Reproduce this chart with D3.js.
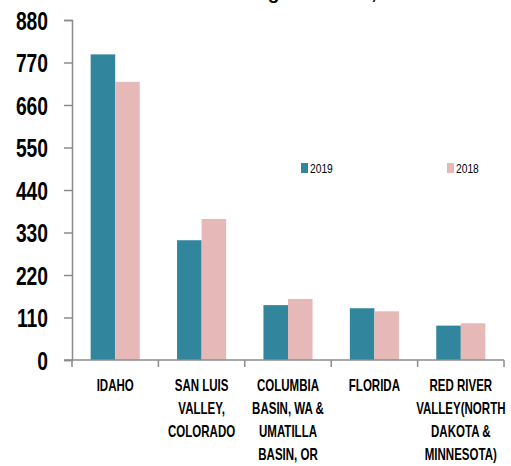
<!DOCTYPE html>
<html>
<head>
<meta charset="utf-8">
<script src="https://cdn.jsdelivr.net/npm/d3@7"></script>
<style>
  body { margin: 0; background: #fff; }
  svg text { font-family: "Liberation Sans", Arial, sans-serif; }
</style>
</head>
<body>
<div id="chart"></div>
<script>
const regions = [
  ['IDAHO'],
  ['SAN LUIS', 'VALLEY,', 'COLORADO'],
  ['COLUMBIA', 'BASIN, WA &', 'UMATILLA', 'BASIN, OR'],
  ['FLORIDA'],
  ['RED RIVER', 'VALLEY(NORTH', 'DAKOTA &', 'MINNESOTA)']
];
const years = ['2019', '2018'];
const values2019 = [791, 310, 142, 134, 89];
const values2018 = [720, 365, 158, 126, 95];
const yTicks = [0, 110, 220, 330, 440, 550, 660, 770, 880];

const colors = {'2019': '#31859c', '2018': '#e6b9b8'};
const width = 511, height = 466;
const margin = {left: 72, right: 7, top: 20, bottom: 106};
const narrow = 0.72; // squeeze text to look like a condensed face

const svg = d3.select('#chart').append('svg')
  .attr('width', width)
  .attr('height', height);

const keys = regions.map((d, i) => 'r' + i);

const x0 = d3.scaleBand()
  .domain(keys)
  .range([margin.left, width - margin.right]);

const x1 = d3.scaleBand()
  .domain(years)
  .range([0, x0.bandwidth()])
  .paddingInner(0)
  .paddingOuter(0.76);

const y = d3.scaleLinear()
  .domain([0, 880])
  .range([height - margin.bottom, margin.top]);

// title, cut off by the top edge in the original
svg.append('text')
  .attr('x', 424)
  .attr('y', -1)
  .attr('text-anchor', 'end')
  .style('font-weight', 'bold')
  .style('font-size', '19px')
  .text('Total Stocks in Storage Districts, 2019');

// bars
const groups = svg.append('g')
  .selectAll('g')
  .data(keys)
  .join('g')
  .attr('transform', d => `translate(${x0(d)},0)`);

groups.selectAll('rect')
  .data((d, i) => [
    {year: '2019', value: values2019[i]},
    {year: '2018', value: values2018[i]}
  ])
  .join('rect')
  .attr('x', d => x1(d.year))
  .attr('y', d => y(d.value))
  .attr('width', x1.bandwidth())
  .attr('height', d => y(0) - y(d.value))
  .attr('fill', d => colors[d.year]);

// y axis
const yAxis = svg.append('g')
  .attr('transform', `translate(${margin.left},0)`)
  .call(d3.axisLeft(y).tickValues(yTicks).tickSize(8));
yAxis.selectAll('path, line').attr('stroke', '#8c8c8c').attr('stroke-width', 1.5);
yAxis.selectAll('text')
  .attr('x', 0)
  .attr('dy', '0.36em')
  .attr('transform', `translate(-24,0) scale(${narrow + 0.05},1)`)
  .attr('fill', '#000')
  .style('font-size', '25px')
  .style('font-weight', 'bold');

// x axis, ticks on category boundaries
const xAxis = svg.append('g')
  .attr('transform', `translate(0,${y(0)})`);
xAxis.append('line')
  .attr('x1', margin.left - 8)
  .attr('x2', width - margin.right)
  .attr('stroke', '#8c8c8c')
  .attr('stroke-width', 1.5);
const bounds = keys.map(k => x0(k)).concat([x0(keys[keys.length - 1]) + x0.bandwidth()]);
xAxis.selectAll('.tick')
  .data(bounds)
  .join('line')
  .attr('class', 'tick')
  .attr('x1', d => d).attr('x2', d => d)
  .attr('y1', 0).attr('y2', 7)
  .attr('stroke', '#8c8c8c')
  .attr('stroke-width', 1.5);

const labels = xAxis.selectAll('.cat')
  .data(keys)
  .join('text')
  .attr('class', 'cat')
  .attr('transform', d => `translate(${x0(d) + x0.bandwidth() / 2},31) scale(${narrow},1)`)
  .attr('text-anchor', 'middle')
  .style('font-size', '16px')
  .style('font-weight', 'bold')
  .attr('fill', '#000');
labels.selectAll('tspan')
  .data((d, i) => regions[i])
  .join('tspan')
  .attr('x', 0)
  .attr('y', (d, j) => j * 23)
  .text(d => d);

// legend
const legendPos = {'2019': 301, '2018': 447};
const legend = svg.append('g')
  .selectAll('g')
  .data(years)
  .join('g')
  .attr('transform', d => `translate(${legendPos[d]},163)`);
legend.append('rect')
  .attr('width', 7)
  .attr('height', 10)
  .attr('fill', d => colors[d]);
legend.append('text')
  .attr('transform', `translate(9,10) scale(0.76,1)`)
  .style('font-size', '13.5px')
  .attr('fill', '#000')
  .text(d => d);
</script>
</body>
</html>
